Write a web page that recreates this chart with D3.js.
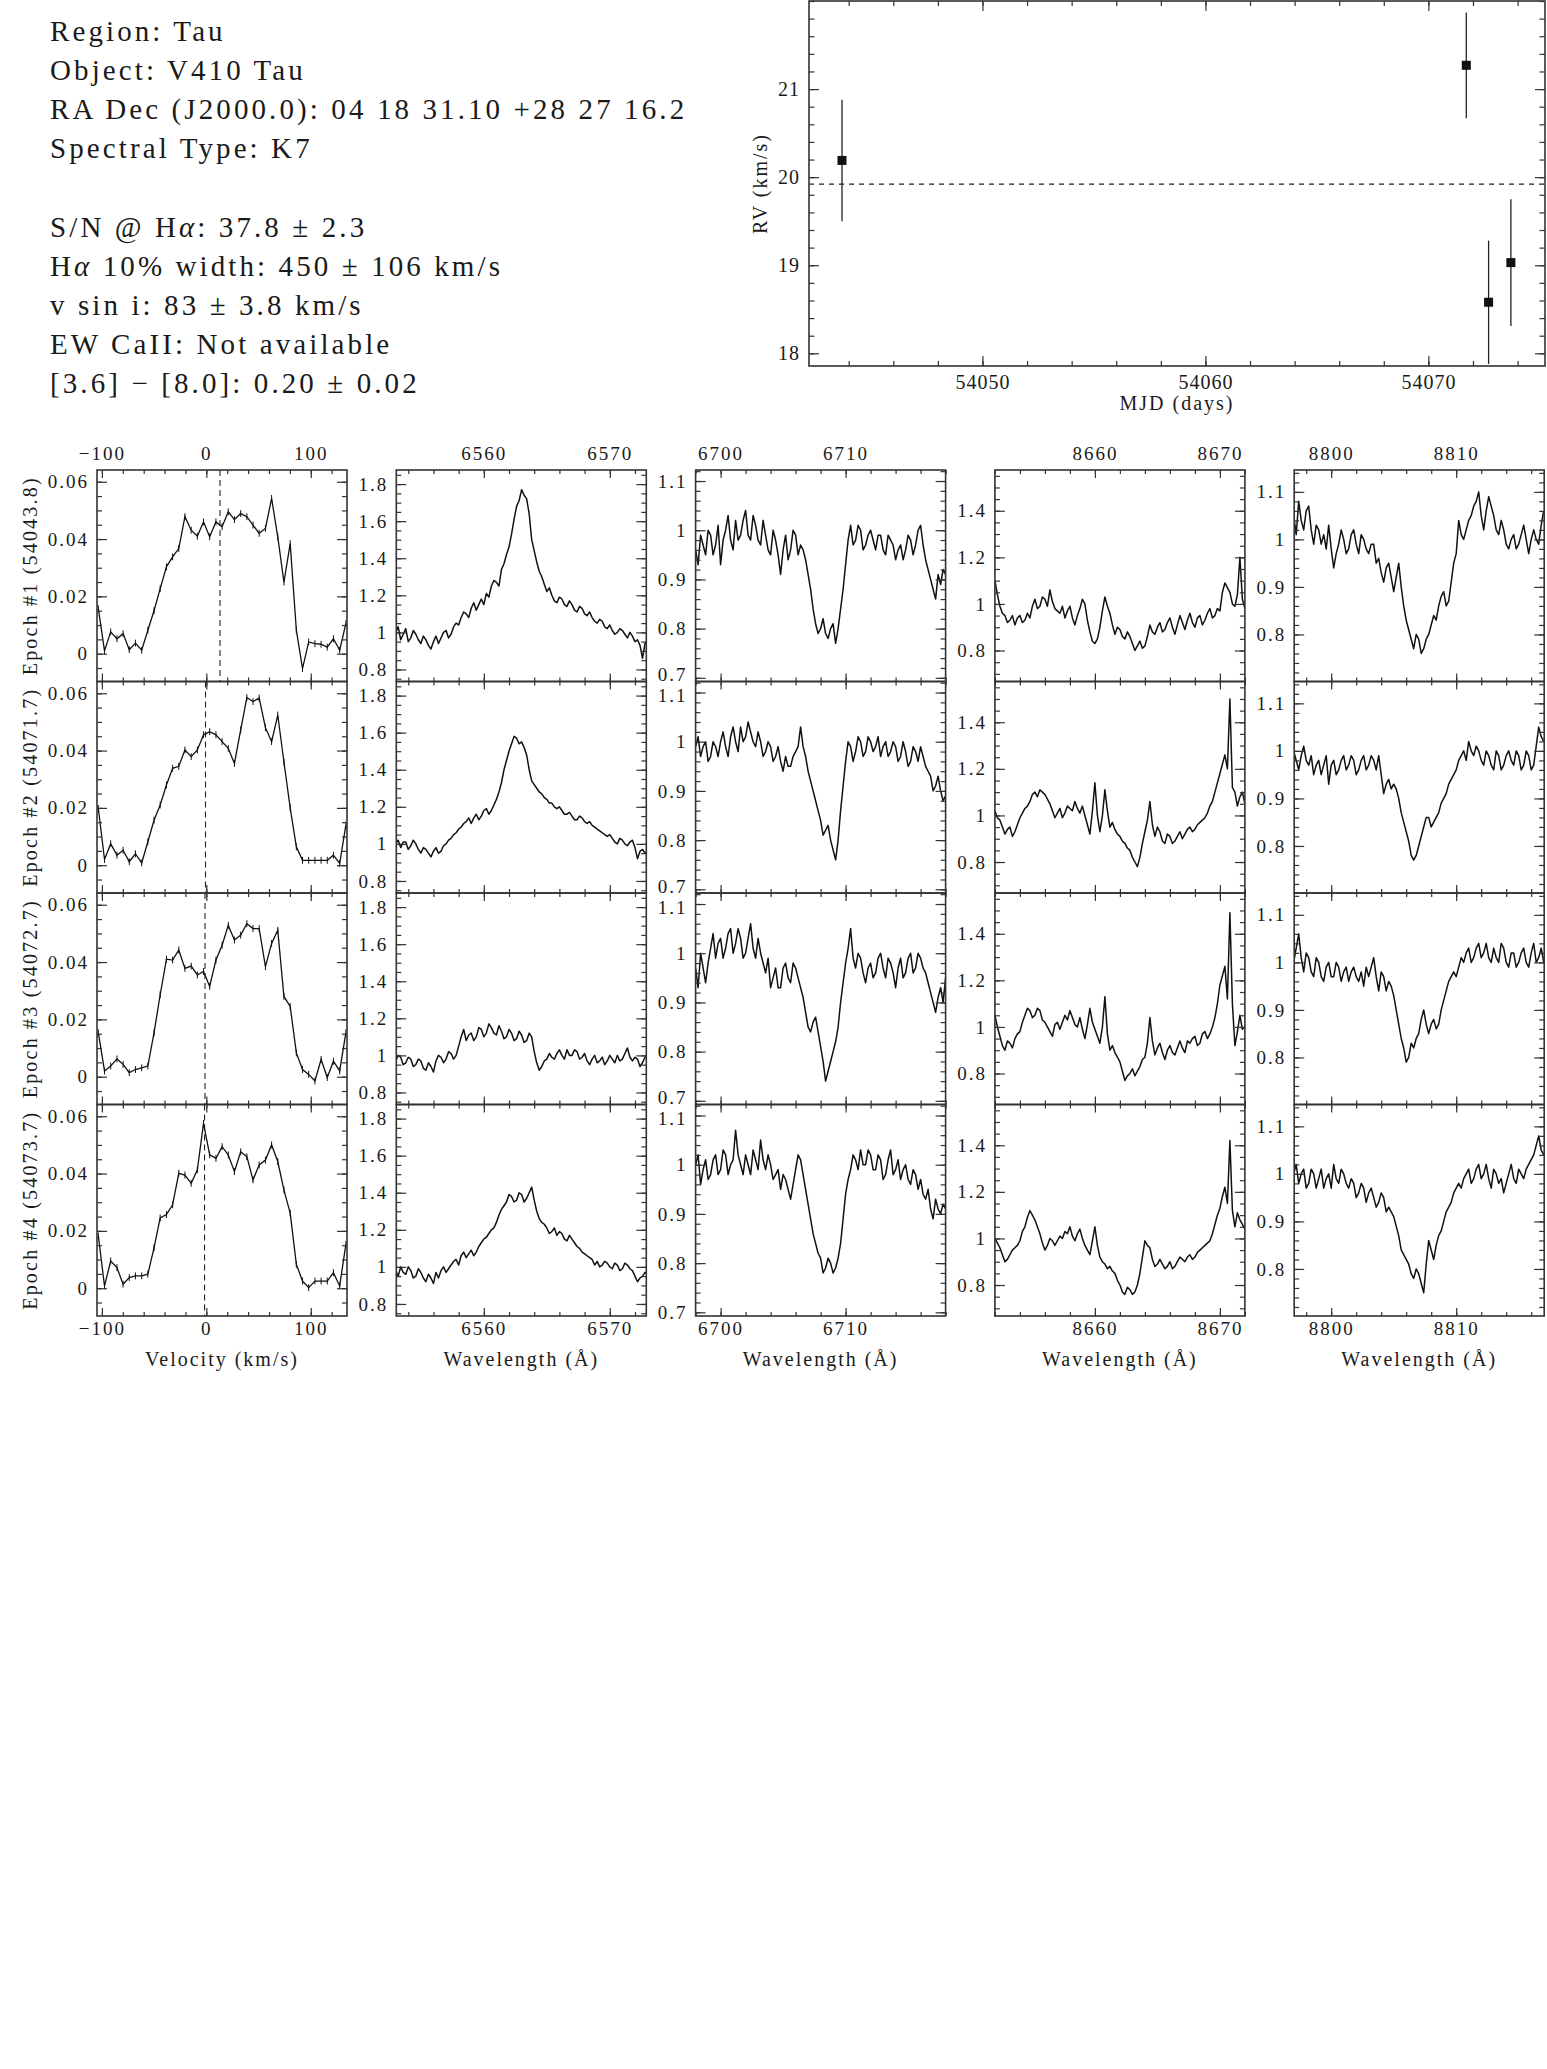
<!DOCTYPE html>
<html>
<head>
<meta charset="utf-8">
<script src="https://cdn.jsdelivr.net/npm/d3@7"></script>
<style>
  body { margin: 0; background: #fff; }
  svg text { font-family: "Liberation Serif", "Times New Roman", serif; fill: #1a1a1a; }
</style>
</head>
<body>
<div id="vis"></div>
<script>
// ---- header text ----
const infoLines = [
  'Region: Tau',
  'Object: V410 Tau',
  'RA Dec (J2000.0): 04 18 31.10 +28 27 16.2',
  'Spectral Type: K7',
  '',
  'S/N @ H\u03b1: 37.8 \u00b1 2.3',
  'H\u03b1 10% width: 450 \u00b1 106 km/s',
  'v sin i: 83 \u00b1 3.8 km/s',
  'EW CaII: Not available',
  '[3.6] \u2212 [8.0]: 0.20 \u00b1 0.02'
];

// ---- radial velocity per epoch ----
const rvMjd = [54043.7, 54071.7, 54072.7, 54073.7];
const rvValue = [20.19, 21.27, 18.58, 19.03];
const rvError = [0.69, 0.60, 0.70, 0.72];
const rvMean = 19.92;
const rvXTicks = [54050, 54060, 54070];
const rvYTicks = [18, 19, 20, 21];

const epochLabels = ['Epoch #1 (54043.8)', 'Epoch #2 (54071.7)', 'Epoch #3 (54072.7)', 'Epoch #4 (54073.7)'];

// ---- cross-correlation profiles (first column) ----
const velocity = [-103.4,-97.5,-91.6,-85.6,-79.7,-73.8,-67.9,-61.9,-56.0,-50.1,-44.2,-38.2,-32.3,-26.4,-20.5,-14.5,-8.6,-2.7,3.2,9.2,15.1,21.0,26.9,32.9,38.8,44.7,50.6,56.6,62.5,68.4,74.3,80.3,86.2,92.1,98.0,104.0,109.9,115.8,121.7,127.7,133.6];
const profile1 = [0.0157,0.0010,0.0076,0.0052,0.0070,0.0014,0.0037,0.0012,0.0082,0.0150,0.0227,0.0303,0.0338,0.0367,0.0478,0.0431,0.0410,0.0460,0.0408,0.0460,0.0443,0.0495,0.0468,0.0489,0.0478,0.0449,0.0420,0.0437,0.0542,0.0408,0.0250,0.0384,0.0082,-0.0052,0.0041,0.0035,0.0033,0.0023,0.0052,0.0012,0.0105];
const profile2 = [0.0198,0.0020,0.0075,0.0035,0.0052,0.0012,0.0040,0.0008,0.0082,0.0157,0.0210,0.0280,0.0338,0.0345,0.0402,0.0379,0.0402,0.0455,0.0466,0.0455,0.0431,0.0408,0.0355,0.0472,0.0585,0.0571,0.0583,0.0480,0.0431,0.0524,0.0360,0.0200,0.0064,0.0017,0.0017,0.0017,0.0017,0.0017,0.0035,0.0006,0.0140];
const profile3 = [0.0153,0.0020,0.0037,0.0062,0.0043,0.0014,0.0025,0.0031,0.0037,0.0153,0.0286,0.0410,0.0407,0.0442,0.0378,0.0386,0.0355,0.0367,0.0315,0.0407,0.0459,0.0528,0.0477,0.0494,0.0534,0.0517,0.0517,0.0384,0.0465,0.0511,0.0280,0.0245,0.0083,0.0025,0.0008,-0.0015,0.0060,-0.0003,0.0054,0.0020,0.0153];
const profile4 = [0.0182,0.0008,0.0095,0.0072,0.0014,0.0037,0.0043,0.0043,0.0049,0.0141,0.0245,0.0257,0.0291,0.0401,0.0395,0.0366,0.0413,0.0575,0.0465,0.0453,0.0494,0.0465,0.0407,0.0476,0.0459,0.0378,0.0430,0.0447,0.0500,0.0442,0.0343,0.0262,0.0083,0.0025,0.0002,0.0025,0.0025,0.0025,0.0054,0.0008,0.0153];
const profileError = 0.0012;
const profileCentre = [13.1, -0.8, -1.3, -1.7];

// ---- spectra (columns 2-5), normalised flux on a 0.2 A grid from specStart ----
const specStart = [6553.0, 6698.0, 8652.0, 8797.0];
const specStep = 0.2;
const fluxHalpha = [
  "1.00 1.03 0.96 0.99 1.02 0.95 0.97 1.01 0.99 0.96 0.94 0.98 0.96 0.93 0.91 0.95 0.98 0.94 0.97 1.00 1.01 0.97 0.99 1.03 1.05 1.04 1.08 1.11 1.10 1.08 1.13 1.16 1.12 1.15 1.18 1.15 1.21 1.19 1.25 1.28 1.27 1.25 1.34 1.37 1.42 1.46 1.53 1.61 1.68 1.71 1.77 1.74 1.72 1.64 1.50 1.44 1.38 1.33 1.30 1.26 1.22 1.24 1.20 1.17 1.16 1.19 1.18 1.15 1.14 1.17 1.15 1.12 1.11 1.14 1.13 1.10 1.09 1.11 1.08 1.06 1.05 1.07 1.06 1.03 1.02 1.04 1.01 0.99 1.00 1.02 1.01 0.99 0.97 1.00 0.98 0.95 0.96 0.93 0.86 0.94 0.96",
  "1.00 1.02 0.98 1.01 1.01 0.97 0.99 1.02 1.00 0.97 0.95 0.98 0.97 0.95 0.93 0.96 0.98 0.95 0.96 0.99 1.00 1.02 1.03 1.05 1.06 1.08 1.09 1.11 1.12 1.14 1.11 1.14 1.16 1.13 1.15 1.18 1.19 1.16 1.18 1.21 1.24 1.28 1.33 1.40 1.45 1.50 1.54 1.58 1.57 1.54 1.55 1.52 1.48 1.40 1.34 1.32 1.30 1.28 1.27 1.25 1.24 1.22 1.22 1.20 1.19 1.20 1.18 1.16 1.16 1.17 1.15 1.13 1.13 1.15 1.14 1.12 1.11 1.12 1.10 1.09 1.08 1.07 1.06 1.05 1.04 1.05 1.03 1.01 1.00 1.03 1.02 1.00 0.99 1.01 1.02 0.98 0.92 0.96 0.97 0.95 0.96",
  "0.97 1.00 0.99 0.95 0.96 0.99 0.98 0.94 0.95 0.98 0.97 0.93 0.92 0.96 0.94 0.91 0.97 1.00 0.99 0.96 0.98 1.02 1.01 0.98 1.00 1.05 1.10 1.14 1.08 1.11 1.12 1.08 1.10 1.15 1.14 1.10 1.12 1.17 1.15 1.12 1.11 1.16 1.13 1.09 1.10 1.14 1.12 1.08 1.09 1.13 1.11 1.07 1.08 1.12 1.10 1.02 0.96 0.92 0.94 0.97 0.98 1.01 0.99 0.98 1.01 1.03 1.00 0.98 1.03 1.00 1.00 1.03 1.02 0.98 0.99 1.01 0.97 0.95 0.98 1.00 0.96 0.97 0.99 0.95 0.97 1.00 0.98 0.96 1.00 0.97 0.98 1.01 1.04 0.99 0.97 0.99 0.98 0.94 0.96 0.99 1.00",
  "0.98 0.95 1.00 0.97 0.96 1.00 0.98 0.94 0.95 0.99 0.97 0.94 0.92 0.96 0.94 0.91 0.97 0.94 0.98 1.00 0.97 0.99 1.01 1.03 1.04 1.01 1.06 1.08 1.05 1.07 1.09 1.06 1.08 1.11 1.13 1.15 1.16 1.18 1.20 1.21 1.24 1.28 1.31 1.33 1.35 1.39 1.38 1.35 1.36 1.40 1.39 1.35 1.37 1.40 1.43 1.36 1.30 1.26 1.24 1.23 1.21 1.18 1.19 1.21 1.17 1.19 1.18 1.15 1.14 1.17 1.15 1.13 1.11 1.10 1.08 1.07 1.06 1.05 1.04 1.01 1.03 1.00 1.01 1.03 1.02 1.00 0.99 1.02 1.01 0.98 0.99 1.02 1.01 0.99 0.98 0.95 0.92 0.94 0.95 0.97 0.96"
];
const fluxLithium = [
  "0.96 0.93 0.99 0.97 0.95 1.00 0.99 0.95 0.97 1.01 0.93 0.98 1.00 1.03 0.98 0.96 1.02 0.98 0.99 1.02 1.04 0.99 0.98 1.03 1.01 0.98 0.97 1.02 0.99 0.96 0.95 1.00 0.98 0.95 0.91 0.96 0.99 0.94 0.96 1.00 0.99 0.95 0.97 0.96 0.94 0.91 0.88 0.84 0.81 0.79 0.80 0.82 0.79 0.78 0.80 0.81 0.77 0.80 0.84 0.88 0.93 0.98 1.01 0.97 0.98 1.01 1.00 0.96 0.97 0.99 1.00 0.98 0.96 0.99 0.99 0.96 0.95 0.99 0.98 0.97 0.94 0.96 0.97 0.94 0.96 0.99 0.98 0.95 0.97 1.00 1.01 0.97 0.94 0.92 0.90 0.88 0.86 0.91 0.89 0.92 0.91",
  "0.99 1.01 0.97 0.99 1.00 0.96 0.97 1.00 0.99 0.97 1.00 1.02 0.99 0.97 1.01 1.03 1.00 0.98 1.03 1.00 1.01 1.04 1.02 1.00 0.99 1.02 1.00 0.97 0.98 1.00 0.99 0.96 0.97 0.99 0.96 0.94 0.97 0.95 0.95 0.97 0.98 0.99 1.03 0.99 0.97 0.94 0.92 0.90 0.88 0.86 0.84 0.81 0.82 0.83 0.80 0.78 0.76 0.80 0.86 0.91 0.96 1.00 0.99 0.96 0.98 1.01 1.00 0.97 0.98 1.01 1.00 0.98 0.99 1.01 0.97 0.99 1.00 0.97 0.98 1.00 0.99 0.96 0.97 1.00 0.98 0.95 0.96 0.99 0.98 0.96 0.99 0.97 0.95 0.94 0.93 0.90 0.91 0.93 0.90 0.88 0.89",
  "0.97 0.93 1.00 0.97 0.94 0.98 1.01 1.04 0.99 1.02 1.03 0.99 1.01 1.04 1.05 1.00 1.02 1.05 1.03 0.99 1.00 1.03 1.06 1.01 0.99 1.03 1.00 0.98 0.96 0.99 0.93 0.95 0.97 0.93 0.93 0.97 0.98 0.95 0.94 0.98 0.97 0.95 0.93 0.91 0.88 0.85 0.84 0.86 0.87 0.84 0.81 0.78 0.74 0.76 0.78 0.80 0.82 0.85 0.90 0.94 0.98 1.01 1.05 0.99 0.97 1.00 0.99 0.96 0.94 0.97 0.98 0.95 0.96 0.99 1.00 0.97 0.95 0.99 0.98 0.96 0.93 0.97 0.99 0.95 0.96 0.99 1.00 0.96 0.97 1.00 0.99 0.97 0.96 0.94 0.92 0.90 0.88 0.91 0.93 0.90 0.95",
  "1.00 1.02 0.96 0.99 1.01 0.97 0.98 1.01 1.02 0.98 0.99 1.03 1.02 0.98 1.00 1.01 1.07 1.02 1.00 0.98 1.02 1.00 0.98 1.03 1.01 0.99 1.05 1.01 0.99 1.02 1.00 0.97 0.98 0.99 0.95 0.98 0.97 0.95 0.93 0.96 0.99 1.02 1.01 0.98 0.95 0.92 0.89 0.86 0.84 0.82 0.81 0.78 0.79 0.81 0.80 0.78 0.79 0.81 0.84 0.89 0.94 0.97 0.99 1.02 1.01 0.99 1.03 1.00 1.00 1.03 1.02 0.99 0.99 1.02 1.01 0.97 0.98 1.01 1.03 0.98 0.99 1.01 0.97 0.99 1.00 0.97 0.96 0.99 0.98 0.95 0.97 0.94 0.93 0.95 0.91 0.89 0.93 0.91 0.90 0.92 0.91"
];
const fluxCa8662 = [
  "1.10 1.04 0.99 0.96 0.95 0.92 0.93 0.95 0.91 0.94 0.95 0.92 0.93 0.96 0.94 0.99 1.02 0.98 0.99 1.03 1.02 0.99 1.06 1.01 0.98 0.97 0.96 0.99 0.94 0.97 0.99 0.94 0.91 0.95 0.98 1.02 1.00 0.93 0.88 0.84 0.83 0.85 0.90 0.97 1.03 0.99 0.96 0.91 0.87 0.90 0.89 0.86 0.85 0.88 0.86 0.83 0.80 0.82 0.84 0.81 0.82 0.86 0.91 0.88 0.87 0.90 0.92 0.88 0.89 0.92 0.94 0.90 0.87 0.91 0.95 0.92 0.89 0.93 0.96 0.92 0.90 0.94 0.95 0.91 0.93 0.96 0.98 0.94 0.95 0.98 0.97 1.05 1.09 1.07 1.05 1.00 0.99 1.04 1.20 1.02 0.98",
  "1.02 0.99 0.98 0.95 0.92 0.94 0.95 0.91 0.93 0.96 0.99 1.01 1.03 1.04 1.06 1.09 1.10 1.08 1.11 1.10 1.09 1.07 1.05 1.02 0.99 1.01 1.03 0.99 1.01 1.04 1.03 1.02 1.06 1.03 1.01 1.04 1.00 0.96 0.92 1.02 1.14 1.00 0.93 1.00 1.11 1.02 0.95 0.97 0.94 0.92 0.91 0.89 0.88 0.86 0.85 0.82 0.80 0.78 0.82 0.88 0.93 0.98 1.06 0.96 0.91 0.95 0.93 0.89 0.88 0.92 0.91 0.88 0.89 0.91 0.93 0.90 0.92 0.94 0.95 0.93 0.94 0.96 0.97 0.98 0.99 1.01 1.04 1.06 1.10 1.14 1.18 1.22 1.26 1.20 1.50 1.12 1.10 1.04 1.08 1.10 1.05",
  "1.05 1.00 0.96 0.92 0.90 0.94 0.93 0.91 0.95 0.97 0.98 1.02 1.05 1.08 1.07 1.04 1.05 1.08 1.07 1.03 1.02 1.00 0.98 0.96 1.01 1.02 0.99 1.02 1.05 1.03 1.07 1.04 1.01 1.00 1.04 0.99 0.95 1.01 1.08 1.02 0.99 0.96 0.93 1.00 1.13 0.97 0.90 0.92 0.89 0.87 0.85 0.81 0.77 0.79 0.80 0.82 0.79 0.81 0.83 0.86 0.87 0.93 1.04 0.94 0.88 0.91 0.93 0.89 0.86 0.90 0.92 0.89 0.88 0.91 0.94 0.91 0.89 0.94 0.93 0.95 0.96 0.92 0.93 0.97 0.98 0.95 0.97 1.00 1.04 1.10 1.18 1.22 1.26 1.12 1.49 1.10 0.92 0.98 1.05 0.99 1.00",
  "1.00 0.98 0.96 0.93 0.90 0.91 0.93 0.95 0.96 0.97 0.99 1.03 1.05 1.09 1.12 1.10 1.08 1.05 1.02 0.98 0.95 0.97 1.00 0.99 0.97 0.99 1.01 1.00 1.03 1.02 1.05 1.01 0.99 1.02 1.04 1.00 0.97 0.95 0.93 0.99 1.05 0.97 0.92 0.90 0.89 0.87 0.88 0.86 0.85 0.82 0.80 0.77 0.76 0.79 0.78 0.76 0.77 0.80 0.85 0.92 0.99 0.97 0.96 0.91 0.88 0.89 0.91 0.89 0.87 0.88 0.90 0.87 0.88 0.90 0.92 0.91 0.90 0.92 0.93 0.91 0.92 0.94 0.95 0.96 0.97 0.98 0.99 1.02 1.06 1.10 1.13 1.18 1.22 1.15 1.42 1.12 1.05 1.11 1.08 1.06 1.04"
];
const fluxCa8807 = [
  "1.05 1.01 1.08 1.04 1.02 1.06 1.07 1.02 0.99 1.03 1.02 0.99 1.01 0.98 1.03 0.98 0.94 0.97 0.99 1.02 1.00 0.97 0.98 1.01 1.02 0.99 0.97 1.01 1.00 0.98 0.97 0.99 0.99 0.95 0.96 0.93 0.91 0.94 0.95 0.92 0.89 0.92 0.95 0.90 0.86 0.83 0.81 0.79 0.77 0.80 0.79 0.76 0.77 0.79 0.80 0.82 0.84 0.83 0.86 0.88 0.89 0.86 0.87 0.91 0.95 0.97 1.04 1.01 1.00 1.02 1.04 1.05 1.07 1.08 1.10 1.05 1.02 1.06 1.09 1.07 1.05 1.02 1.01 1.04 1.02 0.99 0.98 1.00 1.01 0.98 0.99 1.01 1.03 1.00 0.97 1.00 1.02 1.00 0.99 1.03 1.06",
  "1.00 0.98 0.96 0.99 1.01 0.98 0.97 0.99 0.95 0.97 0.98 0.95 0.97 0.99 0.93 0.97 0.98 0.95 0.96 0.98 0.99 0.96 0.97 0.99 0.98 0.95 0.96 0.98 0.99 0.96 0.97 0.99 0.98 0.96 0.99 0.95 0.91 0.93 0.94 0.92 0.93 0.92 0.90 0.87 0.85 0.83 0.81 0.78 0.77 0.78 0.80 0.82 0.84 0.86 0.86 0.84 0.85 0.86 0.87 0.89 0.90 0.91 0.93 0.94 0.95 0.96 0.98 0.99 1.00 0.98 1.02 1.00 0.99 1.01 1.00 0.98 0.97 1.00 0.99 0.97 0.96 1.00 0.99 0.96 0.97 0.99 1.00 0.98 0.97 1.00 0.99 0.96 0.97 1.00 0.99 0.96 0.97 1.01 1.05 1.03 1.02",
  "1.00 1.03 1.06 1.01 0.98 1.02 1.01 0.98 0.97 1.01 1.00 0.97 0.96 0.99 1.00 0.97 0.97 1.00 0.99 0.96 0.98 0.99 0.96 0.98 0.99 0.97 0.96 0.98 0.95 0.99 0.97 0.99 1.01 0.97 0.94 0.98 0.97 0.94 0.96 0.95 0.93 0.90 0.87 0.84 0.82 0.79 0.80 0.83 0.82 0.84 0.85 0.88 0.90 0.87 0.85 0.87 0.88 0.86 0.87 0.90 0.92 0.94 0.96 0.97 0.98 0.97 0.99 1.01 1.00 1.02 1.03 1.00 1.01 1.03 1.04 1.01 1.02 1.04 1.01 1.00 1.03 1.01 1.00 1.04 1.03 1.00 0.99 1.02 1.02 0.99 1.00 1.02 1.03 1.00 0.99 1.02 1.04 1.00 1.01 1.03 1.00",
  "1.00 1.02 0.98 1.00 1.01 0.97 0.98 1.01 1.00 0.97 0.99 1.01 0.97 0.99 1.00 0.97 1.02 0.99 0.98 1.01 1.00 0.98 0.97 0.99 0.98 0.95 0.96 0.98 0.97 0.94 0.96 0.97 0.95 0.93 0.94 0.96 0.95 0.92 0.93 0.92 0.91 0.89 0.87 0.84 0.83 0.82 0.81 0.79 0.78 0.80 0.79 0.77 0.75 0.81 0.86 0.84 0.82 0.85 0.87 0.88 0.90 0.92 0.93 0.94 0.96 0.97 0.98 0.97 0.99 1.00 1.01 0.98 0.99 1.01 1.02 0.99 1.00 1.02 0.99 0.97 1.01 1.00 0.98 0.99 0.96 0.98 1.00 1.02 0.99 0.98 1.01 1.00 0.99 1.01 1.02 1.03 1.04 1.06 1.08 1.05 1.04"
];

// axis ranges and ticks for each column of the grid
const colXDomain = [[-104.7, 134.7], [6553.05, 6572.9], [6698, 6718], [8652, 8672], [8797.04, 8817.04]];
const colYDomain = [[-0.0097, 0.0641], [0.735, 1.876], [0.6925, 1.1224], [0.667, 1.575], [0.701, 1.146]];
const colXMajor = [[-100, 0, 100], [6560, 6570], [6700, 6710], [8660, 8670], [8800, 8810]];
const colXMinorStep = [20, 2, 2, 2, 2];
const colYMajor = [[0, 0.02, 0.04, 0.06], [0.8, 1, 1.2, 1.4, 1.6, 1.8], [0.7, 0.8, 0.9, 1, 1.1], [0.8, 1, 1.2, 1.4], [0.8, 0.9, 1, 1.1]];
const colYMinorStep = [0.005, 0.05, 0.02, 0.05, 0.02];
const colXTitle = ['Velocity (km/s)', 'Wavelength (\u00c5)', 'Wavelength (\u00c5)', 'Wavelength (\u00c5)', 'Wavelength (\u00c5)'];

const profiles = [profile1, profile2, profile3, profile4];
const spectra = [fluxHalpha, fluxLithium, fluxCa8662, fluxCa8807].map(col => col.map(s => s.split(' ').map(Number)));

// ---------------- drawing ----------------
const W = 1547, H = 2069;
const svg = d3.select('#vis').append('svg')
  .attr('width', W).attr('height', H)
  .attr('viewBox', [0, 0, W, H].join(' '))
  .style('background-color', 'white');

function minorTicks(domain, step) {
  const lo = Math.ceil(domain[0] / step - 1e-9), hi = Math.floor(domain[1] / step + 1e-9);
  return d3.range(lo, hi + 1).map(k => +(k * step).toFixed(6));
}

function fmt(d) {
  const s = String(+(+d).toFixed(4));
  return d < 0 ? '\u2212' + s.slice(1) : s;
}

// ticks inward on all four sides, labels where asked
function drawAxes(g, x, y, w, h, o) {
  const inX = v => v >= x.domain()[0] && v <= x.domain()[1];
  const inY = v => v >= y.domain()[0] && v <= y.domain()[1];
  const sides = [
    { make: d3.axisBottom, s: x, t: [0, h], maj: o.xMajor.filter(inX), min: minorTicks(x.domain(), o.xStep), len: o.xLen, lab: o.bottom, pad: o.padB },
    { make: d3.axisTop, s: x, t: [0, 0], maj: o.xMajor.filter(inX), min: minorTicks(x.domain(), o.xStep), len: o.xLen, lab: o.top, pad: o.padT },
    { make: d3.axisLeft, s: y, t: [0, 0], maj: o.yMajor.filter(inY), min: minorTicks(y.domain(), o.yStep), len: o.yLen, lab: o.left, pad: o.padL, nudge: o.nudge },
    { make: d3.axisRight, s: y, t: [w, 0], maj: o.yMajor.filter(inY), min: minorTicks(y.domain(), o.yStep), len: o.yLen, lab: false, pad: 3 }
  ];
  sides.forEach(sd => {
    const gm = g.append('g').attr('transform', `translate(${sd.t})`)
      .call(sd.make(sd.s).tickValues(sd.min).tickSize(-sd.len[1]).tickFormat(''));
    const gM = g.append('g').attr('transform', `translate(${sd.t})`)
      .call(sd.make(sd.s).tickValues(sd.maj).tickSize(-sd.len[0]).tickPadding(sd.pad)
        .tickFormat(sd.lab ? fmt : ''));
    [gm, gM].forEach(a => {
      a.select('.domain').remove();
      a.style('color', '#333');
      a.selectAll('line').attr('stroke-width', 1.2);
      a.selectAll('text').style('font-size', o.fs + 'px').style('letter-spacing', o.ls + 'px');
    });
    if (sd.nudge) gM.selectAll('text').attr('y', d => sd.nudge(d));
  });
  g.append('rect').attr('width', w).attr('height', h)
    .attr('fill', 'none').attr('stroke', '#333').attr('stroke-width', 1.6);
}

// header text block
const info = svg.append('g');
infoLines.forEach((line, i) => {
  if (!line) return;
  const t = info.append('text').attr('x', 50).attr('y', 41 + i * 39.1)
    .style('font-size', '29px').style('letter-spacing', '3.1px');
  line.split('\u03b1').forEach((part, j) => {
    if (j > 0) t.append('tspan').style('font-style', 'italic').text('\u03b1');
    t.append('tspan').text(part);
  });
});

// RV panel
const rv = { left: 809, top: 1, w: 736, h: 365 };
const rvX = d3.scaleLinear().domain([54042.22, 54075.23]).range([0, rv.w]);
const rvY = d3.scaleLinear().domain([17.856, 22.0]).range([rv.h, 0]);
const gRv = svg.append('g').attr('transform', `translate(${rv.left},${rv.top})`);

gRv.append('line')
  .attr('x1', 0).attr('x2', rv.w).attr('y1', rvY(rvMean)).attr('y2', rvY(rvMean))
  .attr('stroke', '#222').attr('stroke-width', 1.2).attr('stroke-dasharray', '5,5');

gRv.selectAll('.err').data(rvMjd).join('line')
  .attr('x1', d => rvX(d)).attr('x2', d => rvX(d))
  .attr('y1', (d, i) => rvY(rvValue[i] - rvError[i]))
  .attr('y2', (d, i) => rvY(rvValue[i] + rvError[i]))
  .attr('stroke', '#222').attr('stroke-width', 1.3);

gRv.selectAll('.pt').data(rvMjd).join('rect')
  .attr('x', d => rvX(d) - 4.5).attr('y', (d, i) => rvY(rvValue[i]) - 4.5)
  .attr('width', 9).attr('height', 9).attr('fill', '#111');

drawAxes(gRv, rvX, rvY, rv.w, rv.h, {
  xMajor: rvXTicks, xStep: 2, yMajor: rvYTicks, yStep: 0.2,
  xLen: [10, 5], yLen: [10, 5.5], bottom: true, top: false, left: true,
  padB: 9, padT: 0, padL: 9, fs: 20, ls: 1
});

svg.append('text').attr('x', rv.left + rv.w / 2).attr('y', 410)
  .attr('text-anchor', 'middle').style('font-size', '20px').style('letter-spacing', '2px')
  .text('MJD (days)');
svg.append('text').attr('transform', `translate(767,${rv.top + rv.h / 2}) rotate(-90)`)
  .attr('text-anchor', 'middle').style('font-size', '20px').style('letter-spacing', '2px')
  .text('RV (km/s)');

// grid of profile and spectra panels
const gridLeft = 97, colPitch = 299.3, panelW = 250;
const gridTop = 470, panelH = 211.5;

for (let r = 0; r < 4; r++) {
  for (let c = 0; c < 5; c++) {
    const px = gridLeft + c * colPitch, py = gridTop + r * panelH;
    const x = d3.scaleLinear().domain(colXDomain[c]).range([0, panelW]);
    const y = d3.scaleLinear().domain(colYDomain[c]).range([panelH, 0]);
    const g = svg.append('g').attr('transform', `translate(${px},${py})`);
    const clipId = `clip-${r}-${c}`;
    g.append('clipPath').attr('id', clipId).append('rect').attr('width', panelW).attr('height', panelH);
    const plot = g.append('g').attr('clip-path', `url(#${clipId})`);

    if (c === 0) {
      const prof = profiles[r];
      plot.append('line')
        .attr('x1', x(profileCentre[r])).attr('x2', x(profileCentre[r]))
        .attr('y1', 0).attr('y2', panelH)
        .attr('stroke', '#222').attr('stroke-width', 1.1).attr('stroke-dasharray', '6,4');
      plot.append('path').datum(velocity)
        .attr('d', d3.line().x(d => x(d)).y((d, i) => y(prof[i])))
        .attr('fill', 'none').attr('stroke', '#111').attr('stroke-width', 1.3);
      plot.selectAll('.eb').data(velocity).join('line')
        .attr('x1', d => x(d)).attr('x2', d => x(d))
        .attr('y1', (d, i) => y(prof[i] - profileError))
        .attr('y2', (d, i) => y(prof[i] + profileError))
        .attr('stroke', '#111').attr('stroke-width', 1);
    } else {
      const flux = spectra[c - 1][r];
      plot.append('path').datum(flux)
        .attr('d', d3.line().x((d, i) => x(specStart[c - 1] + i * specStep)).y(d => y(d)))
        .attr('fill', 'none').attr('stroke', '#111').attr('stroke-width', 1.5)
        .attr('stroke-linejoin', 'round');
    }

    // labels 0.7 / 1.1 of the lithium column meet at the shared row edge
    const nudge = c === 2
      ? d => (d === 0.7 && r < 3 ? -3 : d === 1.1 && r > 0 ? 3 : 0)
      : null;

    drawAxes(g, x, y, panelW, panelH, {
      xMajor: colXMajor[c], xStep: colXMinorStep[c], yMajor: colYMajor[c], yStep: colYMinorStep[c],
      xLen: [8, 4], yLen: [10, 5], bottom: r === 3, top: r === 0, left: true,
      padB: 6, padT: 10, padL: 8, fs: 19, ls: 2, nudge: nudge
    });

    if (r === 3) {
      svg.append('text').attr('x', px + panelW / 2).attr('y', 1366)
        .attr('text-anchor', 'middle').style('font-size', '20px').style('letter-spacing', '2px')
        .text(colXTitle[c]);
    }
    if (c === 0) {
      svg.append('text').attr('transform', `translate(37,${py + panelH / 2}) rotate(-90)`)
        .attr('text-anchor', 'middle').style('font-size', '20px').style('letter-spacing', '2.2px')
        .text(epochLabels[r]);
    }
  }
}
</script>
</body>
</html>
